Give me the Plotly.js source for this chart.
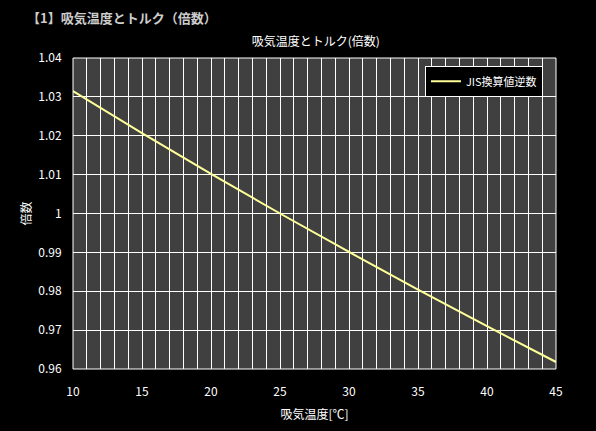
<!DOCTYPE html>
<html>
<head>
<meta charset="utf-8">
<script src="https://cdn.plot.ly/plotly-3.0.1.min.js"></script>
<style>
  html, body { margin: 0; padding: 0; background: #000; }
  #chart { width: 596px; height: 431px; }
</style>
</head>
<body>
<div id="chart"></div>
<script>
// values
var intakeTemp = [10, 15, 20, 25, 30, 35, 40, 45];
var torqueRatio = [1.0315, 1.0207, 1.0102, 1.0000, 0.9901, 0.9804, 0.9710, 0.9618];
var seriesName = 'JIS換算値逆数';

var font = 'Noto Sans CJK JP, sans-serif';

var data = [
	{
		type: 'scatter',
		mode: 'lines',
		name: seriesName,
		x: intakeTemp,
		y: torqueRatio,
		line: {color: '#ffff99', width: 2}
	}
];

var layout = {
	width: 596,
	height: 431,
	paper_bgcolor: '#000000',
	plot_bgcolor: '#404040',
	margin: {l: 73, r: 40, t: 58, b: 62},
	font: {family: font, size: 12, color: '#ffffff'},
	title: {
		text: '吸気温度とトルク(倍数)',
		font: {family: font, size: 12, color: '#ffffff'},
		x: 0.53, xanchor: 'center',
		y: 0.903, yanchor: 'middle'
	},
	showlegend: true,
	legend: {
		x: 0.973, xanchor: 'right',
		y: 0.975, yanchor: 'top',
		bgcolor: '#000000',
		bordercolor: '#ffffff',
		borderwidth: 1,
		tracegroupgap: 0,
		font: {family: font, size: 11, color: '#ffffff'}
	},
	xaxis: {
		range: [10, 45],
		dtick: 5,
		tick0: 10,
		showgrid: true,
		gridcolor: '#ffffff',
		gridwidth: 1,
		zeroline: false,
		showline: false,
		ticks: 'outside',
		ticklen: 12,
		tickcolor: '#000000',
		tickfont: {family: font, size: 12, color: '#ffffff'},
		title: {text: '吸気温度[℃]', font: {family: font, size: 12, color: '#ffffff'}, standoff: 12},
		minor: {dtick: 1, showgrid: true, gridcolor: '#ffffff', gridwidth: 1}
	},
	yaxis: {
		range: [0.96, 1.04],
		dtick: 0.01,
		showgrid: true,
		gridcolor: '#ffffff',
		gridwidth: 1,
		zeroline: false,
		showline: false,
		ticks: 'outside',
		ticklen: 8,
		tickcolor: '#000000',
		tickfont: {family: font, size: 12, color: '#ffffff'},
		title: {text: '倍数', font: {family: font, size: 12, color: '#ffffff'}, standoff: 4}
	},
	shapes: [
		{type: 'rect', xref: 'paper', yref: 'paper', x0: 0, x1: 1, y0: 0, y1: 1,
			line: {color: '#ffffff', width: 1}}
	],
	annotations: [
		{
			text: '<b>【1】吸気温度とトルク（倍数）</b>',
			xref: 'paper', yref: 'paper',
			x: -0.1, xanchor: 'left',
			y: 1.13, yanchor: 'middle',
			showarrow: false,
			font: {family: font, size: 13, color: '#cccccc'}
		}
	]
};

Plotly.newPlot('chart', data, layout, {displayModeBar: false});
</script>
</body>
</html>
